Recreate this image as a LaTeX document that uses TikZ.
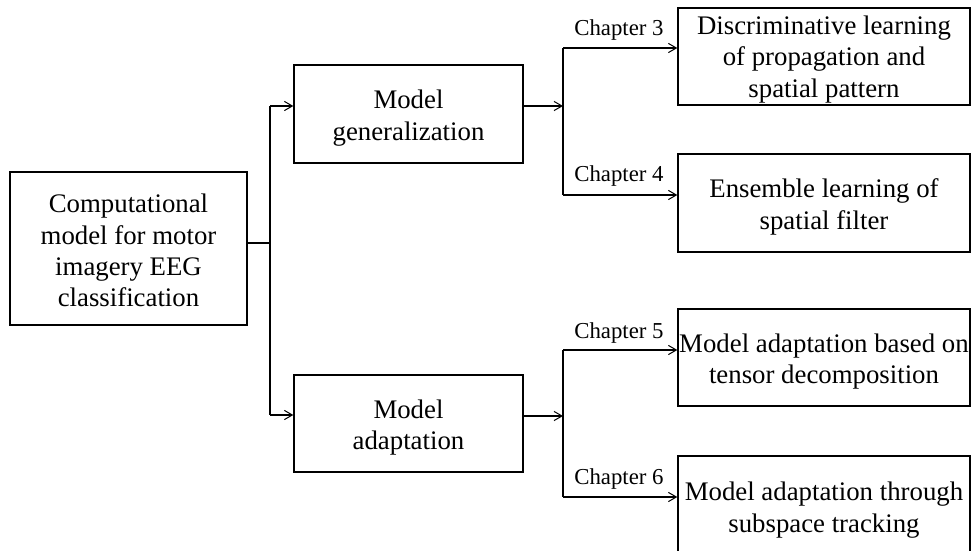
\documentclass[tikz,border=0pt]{standalone}
\usepackage{fontspec}
\setmainfont{Liberation Serif}
\usetikzlibrary{arrows.meta}
\begin{document}
\begin{tikzpicture}[x=0.5pt,y=-0.5pt,
  box/.style={draw,line width=0.65pt,inner sep=0pt},
  txt/.style={align=center,inner sep=0pt,font=\fontsize{13.4}{15.6}\selectfont},
  trunk/.style={line width=1pt},
  arr/.style={line width=0.55pt,-{Straight Barb[length=4pt,width=4.6pt,line width=0.5pt]}},
  chap/.style={anchor=base east,inner sep=0pt,font=\fontsize{11.4}{13}\selectfont}]
\useasboundingbox (0,0) rectangle (971,551);
\clip (0,0) rectangle (971,551);
% boxes
\node[box,minimum width=118.5pt,minimum height=76.5pt] (root) at (128.5,248.5) {};
\node[box,minimum width=114.5pt,minimum height=49pt] (gen) at (408.5,114) {};
\node[box,minimum width=114.5pt,minimum height=48.5pt] (ada) at (408.5,423.5) {};
\node[box,minimum width=146pt,minimum height=48.5pt] (b1) at (824,56.5) {};
\node[box,minimum width=146pt,minimum height=49pt] (b2) at (824,203) {};
\node[box,minimum width=146pt,minimum height=48.5pt] (b3) at (824,357.5) {};
\node[box,minimum width=146pt,minimum height=52pt] (b4) at (824,508) {};
% texts
\node[txt] (rootT) at ([yshift=-1pt]root.center)
  {Computational\\model for motor\\imagery EEG\\classification};
\node[txt] (genT) at ([yshift=-2pt]gen.center) {Model\\generalization};
\node[txt] (adaT) at ([yshift=-2pt]ada.center) {Model\\adaptation};
\node[txt] (b1T) at ([yshift=-1.5pt]b1.center)
  {Discriminative learning\\of propagation and\\spatial pattern};
\node[txt] (b2T) at ([yshift=-2pt]b2.center) {Ensemble learning of\\spatial filter};
\node[txt] (b3T) at ([yshift=-2pt]b3.center) {Model adaptation based on\\tensor decomposition};
\node[txt] (b4T) at ([yshift=-1pt]b4.center) {Model adaptation through\\subspace tracking};
% junction coordinates
\coordinate (j0) at (270,243);
\coordinate (jt) at (270,106);
\coordinate (jb) at (270,415);
\coordinate (k1) at (563,106);
\coordinate (k1t) at (563,48);
\coordinate (k1b) at (563,195);
\coordinate (k2) at (563,416);
\coordinate (k2t) at (563,350);
\coordinate (k2b) at (563,497);
% first level
\draw[trunk] (root.east |- j0) -- (j0);
\draw[trunk] (jt) -- (jb);
\draw[arr] (jt) -- (jt -| gen.west);
\draw[arr] (jb) -- (jb -| ada.west);
% second level
\draw[arr] (gen.east |- k1) -- (k1);
\draw[trunk] (k1t) -- (k1b);
\draw[arr] (k1t) -- (k1t -| b1.west);
\draw[arr] (k1b) -- (k1b -| b2.west);
\draw[arr] (ada.east |- k2) -- (k2);
\draw[trunk] (k2t) -- (k2b);
\draw[arr] (k2t) -- (k2t -| b3.west);
\draw[arr] (k2b) -- (k2b -| b4.west);
% labels
\node[chap] (c3) at (664,36) {Chapter 3};
\node[chap] (c4) at (664,182) {Chapter 4};
\node[chap] (c5) at (664,338) {Chapter 5};
\node[chap] (c6) at (664,484) {Chapter 6};
\end{tikzpicture}
\end{document}
